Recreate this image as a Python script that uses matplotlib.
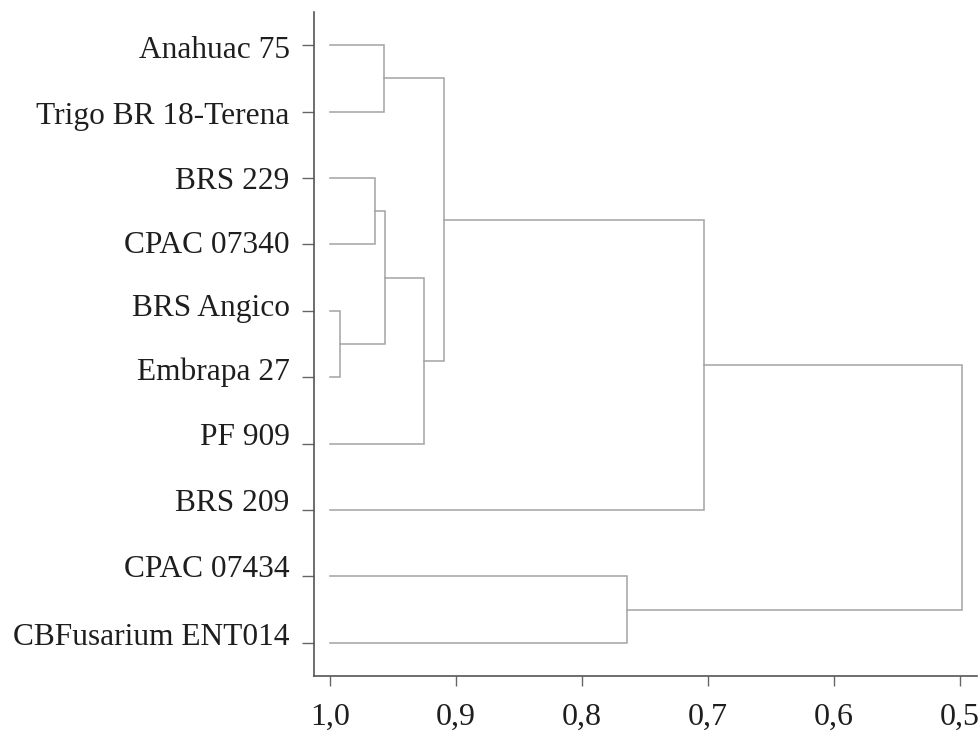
import matplotlib
matplotlib.use('Agg')
import matplotlib.pyplot as plt
from matplotlib.transforms import ScaledTranslation

# leaf labels, top to bottom
labels = ['Anahuac 75', 'Trigo BR 18-Terena', 'BRS 229', 'CPAC 07340',
          'BRS Angico', 'Embrapa 27', 'PF 909', 'BRS 209',
          'CPAC 07434', 'CBFusarium ENT014']

# merges: (child a, child b, similarity); new cluster ids start at len(labels)
merge_a = [4, 2, 0, 11, 13, 12, 8, 15, 17]
merge_b = [5, 3, 1, 10, 6, 14, 9, 7, 16]
merge_h = [0.992, 0.964, 0.957, 0.956, 0.925, 0.9095, 0.764, 0.703, 0.498]

xticks = [1.0, 0.9, 0.8, 0.7, 0.6, 0.5]
xticklabels = ['1,0', '0,9', '0,8', '0,7', '0,6', '0,5']

plt.rcParams['font.family'] = ['Liberation Serif', 'DejaVu Serif']

fig = plt.figure(figsize=(9.8, 7.31), dpi=100)
ax = fig.add_axes([0.3204, 0.0752, 0.9969 - 0.3204, 0.9836 - 0.0752])

line_col = '#a3a3a3'
ypos = {i: float(i) for i in range(len(labels))}
xpos = {i: 1.0 for i in range(len(labels))}

for k, (a, b, h) in enumerate(zip(merge_a, merge_b, merge_h)):
    node = len(labels) + k
    ya, yb = ypos[a], ypos[b]
    ax.plot([xpos[a], h, h, xpos[b]], [ya, ya, yb, yb],
            color=line_col, lw=1.1, solid_joinstyle='miter')
    ypos[node] = (ya + yb) / 2
    xpos[node] = h

ax.set_xlim(1.0127, 0.4865)
ax.set_ylim(9.5, -0.5)

ax.set_yticks(range(len(labels)))
ax.set_yticklabels(labels)
ax.set_xticks(xticks)
ax.set_xticklabels(xticklabels)

for s in ['top', 'right']:
    ax.spines[s].set_visible(False)
for s in ['left', 'bottom']:
    ax.spines[s].set_color('#555555')
    ax.spines[s].set_linewidth(1.2)

ax.tick_params(axis='y', length=8.6, width=1.0, color='#666666', pad=9,
               labelsize=22.6, labelcolor='#1e1e1e')
ax.tick_params(axis='x', length=7.5, width=1.0, color='#666666', pad=11.5,
               labelsize=23, labelcolor='#1e1e1e')

# the original labels drift slightly upward from their ticks towards the bottom
shift_px = [-2, -1, 0, 2, 6, 8.5, 9.5, 10, 10, 9]
for lab, d in zip(ax.get_yticklabels(), shift_px):
    lab.set_transform(lab.get_transform() + ScaledTranslation(0, d / 100, fig.dpi_scale_trans))

fig.savefig('out.png', dpi=100)
